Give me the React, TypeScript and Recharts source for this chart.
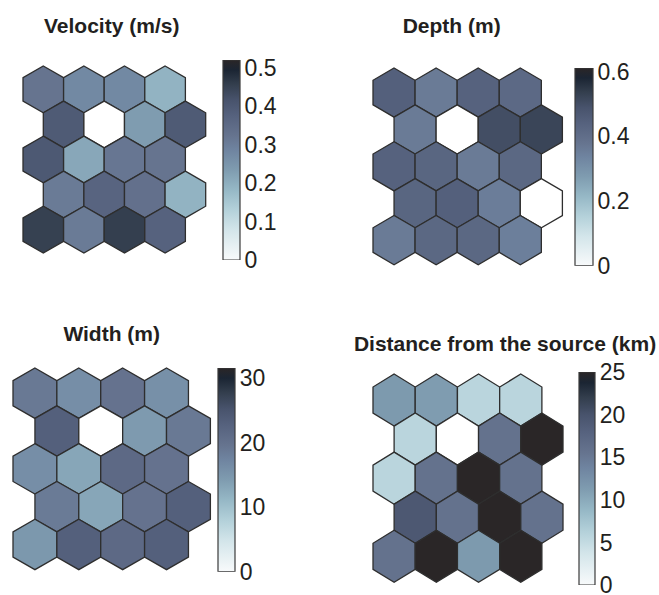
import React from 'react';
import { ScatterChart, Scatter, XAxis, YAxis, BarChart, Bar } from 'recharts';

// component planes, row by row from the top, 4 nodes per row
// (row 2 / col 2 is the empty node, drawn white)
const velocity = [
    [0.322, 0.276, 0.276, 0.192],
    [0.395, 0, 0.234, 0.395],
    [0.4, 0.213, 0.317, 0.322],
    [0.307, 0.369, 0.333, 0.192],
    [0.452, 0.307, 0.455, 0.374],
];
const depth = [
    [0.445, 0.36, 0.44, 0.415],
    [0.36, 0, 0.5, 0.52],
    [0.44, 0.427, 0.36, 0.42],
    [0.427, 0.445, 0.354, 0],
    [0.36, 0.42, 0.42, 0.348],
];
const width = [
    [18.9, 16, 19.8, 15.7],
    [23, 0, 14.4, 18.9],
    [16, 13.1, 21.4, 19.8],
    [18.6, 13.1, 19.8, 23],
    [14.7, 23, 21.4, 23],
];
const distance = [
    [11.5, 11.3, 5.8, 5.8],
    [5.8, 0, 15.8, 25],
    [5.8, 15.8, 25, 15.8],
    [19.3, 15.8, 25, 15.8],
    [15.8, 25, 11.5, 25],
];

const velocityTicks = [0, 0.1, 0.2, 0.3, 0.4, 0.5];
const depthTicks = [0, 0.2, 0.4, 0.6];
const widthTicks = [0, 10, 20, 30];
const distanceTicks = [0, 5, 10, 15, 20, 25];

// reversed bone-like colormap
const cmap: [number, string][] = [
    [0, '#f8fafb'],
    [0.15, '#d3e5ea'],
    [0.25, '#b4d1da'],
    [0.35, '#96b8c6'],
    [0.45, '#7f9cb0'],
    [0.55, '#6f84a0'],
    [0.62, '#66748f'],
    [0.72, '#56627e'],
    [0.8, '#48536c'],
    [0.88, '#333e4d'],
    [0.95, '#1b2533'],
    [1, '#2a2627'],
];

const hexToRgb = (h: string) => [1, 3, 5].map(i => parseInt(h.slice(i, i + 2), 16));

const colorAt = (t: number) => {
    if (t <= 0) return '#ffffff';
    const v = Math.min(1, t);
    for (let i = 1; i < cmap.length; i++) {
        if (v <= cmap[i][0]) {
            const [t0, c0] = cmap[i - 1];
            const [t1, c1] = cmap[i];
            const f = (v - t0) / (t1 - t0);
            const a = hexToRgb(c0);
            const b = hexToRgb(c1);
            return `rgb(${a.map((x, k) => Math.round(x + (b[k] - x) * f)).join(',')})`;
        }
    }
    return cmap[cmap.length - 1][1];
};

const FONT = '"Liberation Sans", Arial, sans-serif';

type Box = { x: number; y: number; w: number; h: number };

interface PlaneProps {
    id: string;
    title: string;
    values: number[][];
    ticks: number[];
    max: number;
    hex: Box;
    bar: Box;
    titleX: number;
    titleTop: number;
}

const Plane: React.FC<PlaneProps> = ({ id, title, values, ticks, max, hex, bar, titleX, titleTop }) => {
    const cells = values.flatMap((row, r) =>
        row.map((value, c) => ({ x: c + 0.5 + (r % 2) * 0.5, y: 1 + 1.5 * r, value }))
    );
    const hw = hex.w / 4.5 / 2;
    const hs = hex.h / 8;
    const pad = 4;

    const renderHex = (props: any) => {
        const { cx, cy, payload } = props;
        const pts = [[0, -hs], [hw, -hs / 2], [hw, hs / 2], [0, hs], [-hw, hs / 2], [-hw, -hs / 2]]
            .map(([dx, dy]) => `${cx + dx},${cy + dy}`)
            .join(' ');
        return <polygon points={pts} fill={colorAt(payload.value / max)} stroke="#2e2e2e" strokeWidth={1.3} />;
    };

    const renderTick = (p: any) => (
        <text
            x={p.x}
            y={p.y}
            dy="0.36em"
            textAnchor="start"
            fill="#231f20"
            style={{ fontSize: '23px', fontFamily: FONT }}
        >
            {p.payload.value}
        </text>
    );

    // svg gradient stops must run in increasing offset order (top = max)
    const stops = [...cmap].reverse();

    return (
        <>
            <div
                style={{
                    position: 'absolute',
                    left: titleX - 200,
                    top: titleTop,
                    width: 400,
                    textAlign: 'center',
                    fontFamily: FONT,
                    fontWeight: 'bold',
                    fontSize: 21,
                    lineHeight: '24px',
                    color: '#231f20',
                    whiteSpace: 'nowrap',
                }}
            >
                {title}
            </div>
            <div style={{ position: 'absolute', left: hex.x - pad, top: hex.y - pad }}>
                <ScatterChart
                    width={hex.w + pad * 2}
                    height={hex.h + pad * 2}
                    margin={{ top: pad, right: pad, bottom: pad, left: pad }}
                >
                    <XAxis type="number" dataKey="x" domain={[0, 4.5]} hide />
                    <YAxis type="number" dataKey="y" domain={[0, 8]} reversed hide />
                    <Scatter data={cells} shape={renderHex} isAnimationActive={false} />
                </ScatterChart>
            </div>
            <div style={{ position: 'absolute', left: bar.x - pad, top: bar.y - 12 }}>
                <BarChart
                    width={bar.w + pad + 56}
                    height={bar.h + 24}
                    data={[{ name: id, value: max }]}
                    margin={{ top: 12, right: 0, bottom: 12, left: pad }}
                    barCategoryGap={0}
                >
                    <defs>
                        <linearGradient id={`cb-${id}`} x1="0" y1="0" x2="0" y2="1">
                            {stops.map(([t, c]) => (
                                <stop key={t} offset={1 - t} stopColor={c} />
                            ))}
                        </linearGradient>
                    </defs>
                    <XAxis dataKey="name" hide />
                    <YAxis
                        yAxisId="labels"
                        orientation="right"
                        type="number"
                        domain={[0, max]}
                        ticks={ticks}
                        allowDataOverflow
                        width={56}
                        axisLine={false}
                        tickSize={0}
                        tickMargin={5}
                        tickLine={false}
                        tick={renderTick}
                    />
                    <YAxis
                        yAxisId="marks"
                        orientation="left"
                        type="number"
                        domain={[0, max]}
                        ticks={ticks}
                        allowDataOverflow
                        width={0}
                        axisLine={false}
                        tickSize={-4}
                        tickLine={{ stroke: '#333' }}
                        tick={() => <g />}
                    />
                    <Bar
                        yAxisId="labels"
                        dataKey="value"
                        fill={`url(#cb-${id})`}
                        stroke="#3a3a3a"
                        strokeWidth={1.2}
                        isAnimationActive={false}
                    />
                </BarChart>
            </div>
        </>
    );
};

export default function App() {
    return (
        <div style={{ position: 'absolute', left: 0, top: 0, width: 659, height: 595, background: '#fff', overflow: 'hidden' }}>
            <Plane
                id="vel"
                title="Velocity (m/s)"
                values={velocity}
                ticks={velocityTicks}
                max={0.52}
                hex={{ x: 23.3, y: 65.7, w: 182.7, h: 187 }}
                bar={{ x: 222.7, y: 60, w: 16.6, h: 200 }}
                titleX={111.7}
                titleTop={13.6}
            />
            <Plane
                id="dep"
                title="Depth (m)"
                values={depth}
                ticks={depthTicks}
                max={0.61}
                hex={{ x: 373.3, y: 68.3, w: 189.4, h: 196.7 }}
                bar={{ x: 575, y: 68.3, w: 17.5, h: 197.7 }}
                titleX={451.7}
                titleTop={13.6}
            />
            <Plane
                id="wid"
                title="Width (m)"
                values={width}
                ticks={widthTicks}
                max={31.5}
                hex={{ x: 13.3, y: 368.3, w: 197.4, h: 201.7 }}
                bar={{ x: 218.3, y: 368.3, w: 16.7, h: 203.7 }}
                titleX={111.7}
                titleTop={321.6}
            />
            <Plane
                id="dist"
                title="Distance from the source (km)"
                values={distance}
                ticks={distanceTicks}
                max={25}
                hex={{ x: 372.7, y: 374, w: 190, h: 208.3 }}
                bar={{ x: 579.3, y: 371.7, w: 15.7, h: 213 }}
                titleX={505}
                titleTop={331.6}
            />
        </div>
    );
}
